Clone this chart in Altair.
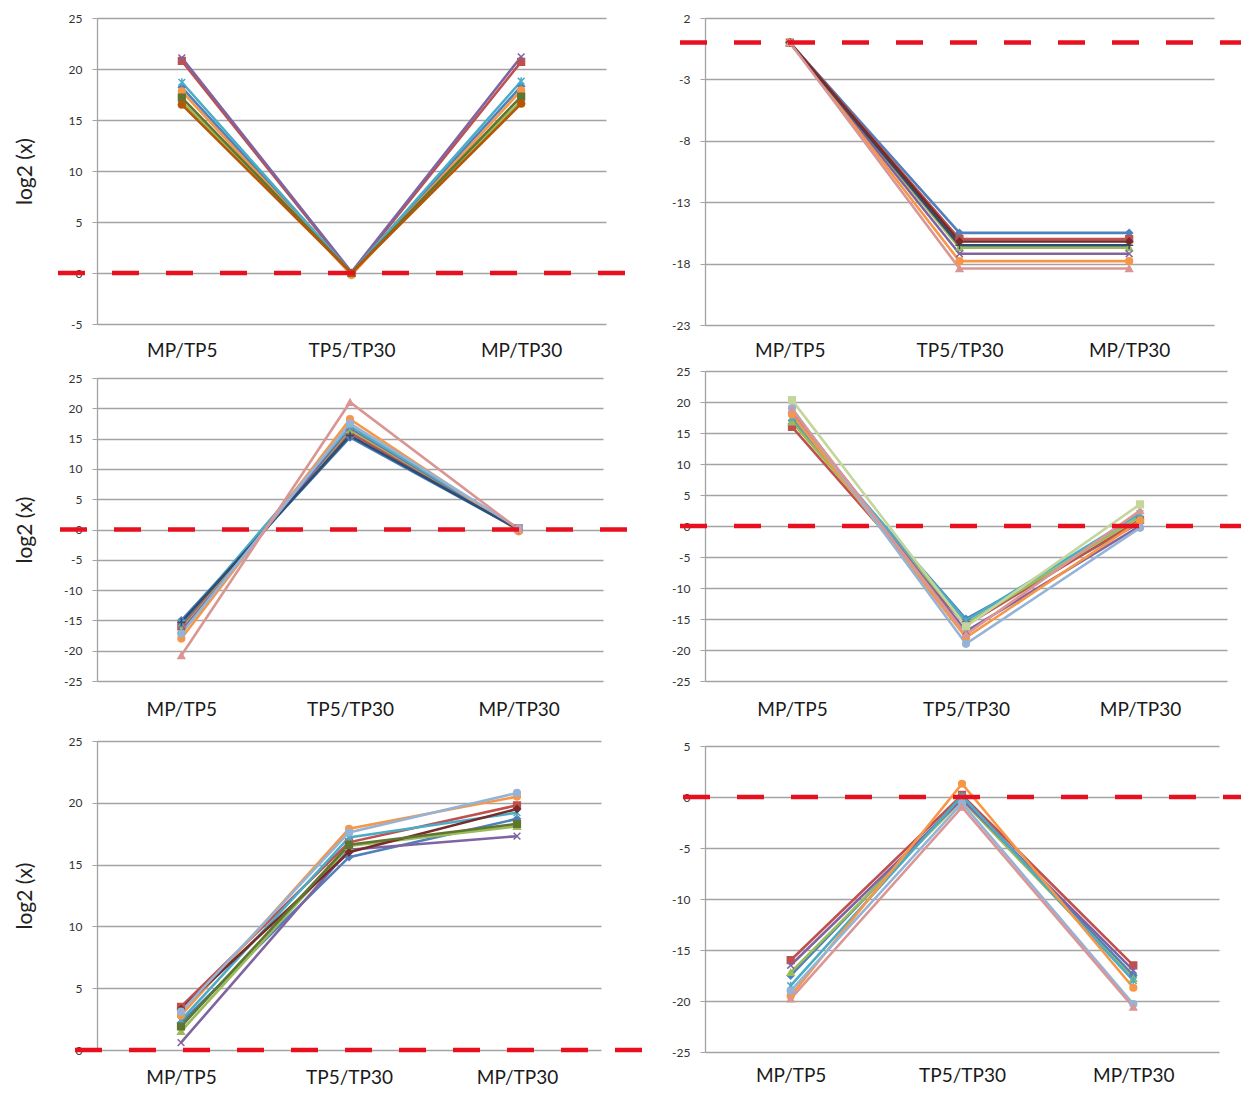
import altair as alt
import pandas as pd

CATEGORIES = ["MP/TP5", "TP5/TP30", "MP/TP30"]

SERIES_NAMES = ["S01", "S02", "S03", "S04", "S05", "S06", "S07", "S08",
                "S09", "S10", "S11", "S12", "S13", "S14", "S15"]
SERIES_COLORS = ["#4F81BD", "#C0504D", "#9BBB59", "#8064A2", "#4BACC6", "#F79646",
                 "#2C4D75", "#772C2A", "#5F7530", "#4D3B62", "#276A7C", "#B65708",
                 "#95B3D7", "#D99694", "#C3D69B"]
X_PATH = "M-1,-1L1,1M-1,1L1,-1"
STAR_PATH = "M-1,-1L1,1M-1,1L1,-1M0,-1.2L0,1.2"
PLUS_PATH = "M-1.2,0L1.2,0M0,-1.2L0,1.2"
SERIES_SHAPES = ["diamond", "square", "triangle-up", X_PATH, STAR_PATH, "circle",
                 PLUS_PATH, "diamond", "square", "triangle-up", X_PATH, "circle",
                 "circle", "triangle-up", "square"]

# ---- panel 1 (top left)
P1_SERIES = ["S01", "S02", "S03", "S04", "S05", "S06", "S09", "S12"]
P1_MP_TP5 = [18.2, 20.8, 16.8, 21.1, 18.7, 17.8, 17.2, 16.5]
P1_TP5_TP30 = [0.0, 0.0, 0.0, 0.1, 0.0, -0.2, 0.0, 0.0]
P1_MP_TP30 = [18.3, 20.7, 16.9, 21.2, 18.8, 17.9, 17.3, 16.6]

# ---- panel 2 (top right)
P2_SERIES = ["S01", "S02", "S03", "S04", "S06", "S07", "S08", "S14"]
P2_MP_TP5 = [0.0, 0.0, 0.0, 0.0, 0.0, 0.0, 0.0, 0.0]
P2_TP5_TP30 = [-15.5, -16.0, -16.7, -17.2, -17.8, -16.5, -16.2, -18.4]
P2_MP_TP30 = [-15.5, -16.0, -16.7, -17.2, -17.8, -16.5, -16.2, -18.4]

# ---- panel 3 (middle left)
P3_SERIES = ["S01", "S02", "S03", "S04", "S05", "S06", "S07", "S13", "S14"]
P3_MP_TP5 = [-15.0, -16.0, -16.5, -16.8, -15.5, -18.0, -15.3, -17.2, -20.8]
P3_TP5_TP30 = [15.2, 16.0, 16.5, 16.8, 17.0, 18.2, 15.5, 17.5, 21.0]
P3_MP_TP30 = [0.0, 0.2, 0.1, 0.0, 0.1, -0.3, 0.0, 0.2, 0.0]

# ---- panel 4 (middle right)
P4_SERIES = ["S01", "S02", "S03", "S04", "S05", "S06", "S13", "S14", "S15"]
P4_MP_TP5 = [17.0, 16.0, 16.8, 18.5, 17.5, 18.0, 19.0, 18.8, 20.3]
P4_TP5_TP30 = [-15.0, -16.0, -15.8, -17.0, -15.3, -18.0, -19.0, -17.5, -16.2]
P4_MP_TP30 = [0.5, 1.0, 1.5, 0.0, 2.0, 0.8, -0.3, 2.5, 3.5]

# ---- panel 5 (bottom left)
P5_SERIES = ["S01", "S02", "S03", "S04", "S05", "S06", "S08", "S09", "S13"]
P5_MP_TP5 = [2.2, 3.5, 1.5, 0.6, 2.4, 2.8, 3.3, 1.9, 3.1]
P5_TP5_TP30 = [15.6, 16.8, 16.5, 16.2, 17.2, 17.9, 16.0, 16.6, 17.6]
P5_MP_TP30 = [18.7, 19.8, 18.1, 17.3, 19.2, 20.5, 19.5, 18.3, 20.8]

# ---- panel 6 (bottom right)
P6_SERIES = ["S01", "S02", "S03", "S04", "S05", "S06", "S13", "S14"]
P6_MP_TP5 = [-17.5, -16.0, -17.2, -16.5, -18.5, -19.5, -19.0, -19.8]
P6_TP5_TP30 = [0.0, 0.2, -0.3, -0.2, 0.1, 1.3, -0.6, -1.0]
P6_MP_TP30 = [-17.5, -16.5, -17.8, -17.0, -18.0, -18.7, -20.3, -20.6]

Y_TITLE = "log2 (x)"
FONT = "Lato"
LABEL_EXPR = "datum.value < 0 ? '-' + abs(datum.value) : '' + datum.value"


def panel(series, v1, v2, v3, ydomain, yticks, width, height, ytitle,
          rule_left, rule_right, xlabel_pad, extra_bottom):
    rows = []
    for s, a, b, c in zip(series, v1, v2, v3):
        for cat, v in zip(CATEGORIES, (a, b, c)):
            rows.append({"series": s, "category": cat, "value": v})
    df = pd.DataFrame(rows)

    xaxis_kw = dict(labelAngle=0, labelPadding=xlabel_pad, domain=False, ticks=False,
                    grid=False, labelFont=FONT, labelFontSize=19, labelColor="#1a1a1a")
    if extra_bottom:
        xaxis_kw.update(title=" ", titleFontSize=extra_bottom, titlePadding=0)
    else:
        xaxis_kw.update(title=None)
    x = alt.X("category:N", sort=CATEGORIES,
              scale=alt.Scale(domain=CATEGORIES, padding=0.5),
              axis=alt.Axis(**xaxis_kw))

    yaxis_kw = dict(values=yticks, tickCount=len(yticks), labelExpr=LABEL_EXPR,
                    grid=True, gridColor="#A3A3A3",
                    gridWidth=1.3, domain=True, domainColor="#A3A3A3", domainWidth=1.3,
                    ticks=True, tickSize=5, tickColor="#A3A3A3", labelPadding=10,
                    labelFont=FONT, labelFontSize=12, labelColor="#333333",
                    labelOverlap=False, minExtent=40, maxExtent=40)
    if ytitle:
        yaxis_kw.update(title=ytitle, titleFont=FONT, titleFontSize=21,
                        titleFontWeight="normal", titleColor="#222222", titlePadding=22)
    else:
        yaxis_kw.update(title=None)
    y = alt.Y("value:Q", scale=alt.Scale(domain=ydomain, nice=False, zero=False),
              axis=alt.Axis(**yaxis_kw))

    col = alt.Color("series:N", scale=alt.Scale(domain=SERIES_NAMES, range=SERIES_COLORS),
                    legend=None)
    fill = alt.Fill("series:N", scale=alt.Scale(domain=SERIES_NAMES, range=SERIES_COLORS),
                    legend=None)
    stroke = alt.Stroke("series:N", scale=alt.Scale(domain=SERIES_NAMES, range=SERIES_COLORS),
                        legend=None)
    shape = alt.Shape("series:N", scale=alt.Scale(domain=SERIES_NAMES, range=SERIES_SHAPES),
                      legend=None)

    base = alt.Chart(df)
    lines = base.mark_line(strokeWidth=2.6).encode(x=x, y=y, color=col)
    pts = base.mark_point(filled=True, size=45, strokeWidth=1.5, opacity=1).encode(
        x=x, y=y, fill=fill, stroke=stroke, shape=shape)
    rule = alt.Chart(pd.DataFrame({"zero": [0]})).mark_rule(
        color="#E8101E", strokeWidth=4.5, strokeDash=[27, 27], strokeCap="butt"
    ).encode(y="zero:Q", x=alt.value(rule_left), x2=alt.value(width + rule_right))
    return alt.layer(lines, pts, rule).properties(width=width, height=height)


p1 = panel(P1_SERIES, P1_MP_TP5, P1_TP5_TP30, P1_MP_TP30, [-5, 25],
           [-5, 0, 5, 10, 15, 20, 25], 509, 306, Y_TITLE, -39, 20, 17, 0)
p3 = panel(P3_SERIES, P3_MP_TP5, P3_TP5_TP30, P3_MP_TP30, [-25, 25],
           [-25, -20, -15, -10, -5, 0, 5, 10, 15, 20, 25], 506, 303, Y_TITLE, -37, 27, 19, 4)
p5 = panel(P5_SERIES, P5_MP_TP5, P5_TP5_TP30, P5_MP_TP30, [0, 25],
           [0, 5, 10, 15, 20, 25], 504, 309, Y_TITLE, -22, 45, 18, 0)
p2 = panel(P2_SERIES, P2_MP_TP5, P2_TP5_TP30, P2_MP_TP30, [-23, 2],
           [2, -3, -8, -13, -18, -23], 509, 307, None, -25, 27, 16, 0)
p4 = panel(P4_SERIES, P4_MP_TP5, P4_TP5_TP30, P4_MP_TP30, [-25, 25],
           [-25, -20, -15, -10, -5, 0, 5, 10, 15, 20, 25], 522, 310, None, -25, 14, 19, 17)
p6 = panel(P6_SERIES, P6_MP_TP5, P6_TP5_TP30, P6_MP_TP30, [-25, 5],
           [-25, -20, -15, -10, -5, 0, 5], 514, 306, None, -22, 22, 14, 0)

left = alt.vconcat(p1, p3, p5, spacing=12)
right = alt.vconcat(p2, p4, p6, spacing=5)

chart = alt.hconcat(left, right, spacing=16).properties(
    padding={"left": 6, "top": 4, "right": 0, "bottom": 0},
    background="white",
).configure_view(stroke=None)

chart.save("out.html", embed_options={"renderer": "svg", "actions": False})
